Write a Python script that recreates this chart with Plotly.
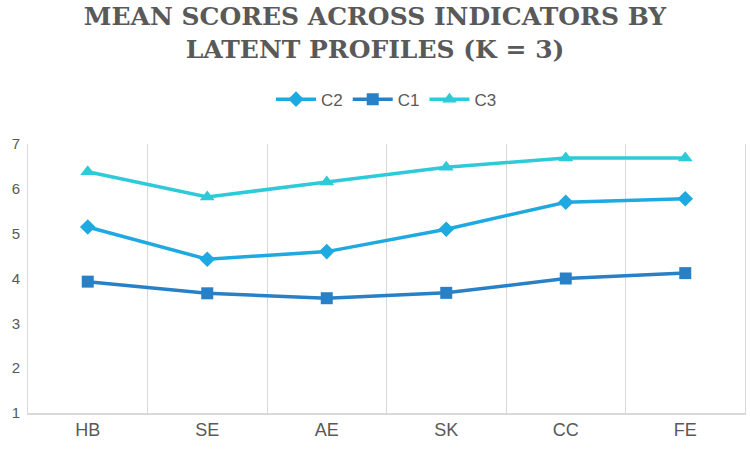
import plotly.graph_objects as go

categories = ["HB", "SE", "AE", "SK", "CC", "FE"]
c2_values = [5.15, 4.43, 4.60, 5.10, 5.70, 5.78]
c1_values = [3.93, 3.67, 3.56, 3.68, 4.00, 4.12]
c3_values = [6.38, 5.82, 6.15, 6.48, 6.69, 6.69]
y_ticks = [1, 2, 3, 4, 5, 6, 7]

series = [
    ("C2", c2_values, "#1FA9E1", "diamond", 12),
    ("C1", c1_values, "#2880C6", "square", 12),
    ("C3", c3_values, "#2DCAD8", "triangle-up", 13),
]

fig = go.Figure()
for name, vals, color, sym, size in series:
    fig.add_trace(go.Scatter(
        x=categories, y=vals, name=name, mode="lines+markers",
        line=dict(color=color, width=3.5),
        marker=dict(symbol=sym, size=size, color=color),
    ))

fig.update_layout(
    width=750, height=449,
    margin=dict(l=28, r=5, t=144, b=36),
    paper_bgcolor="white", plot_bgcolor="white",
    title=dict(
        text="MEAN SCORES ACROSS INDICATORS BY<br>LATENT PROFILES (K = 3)",
        x=0.5, xanchor="center", y=0.944, yanchor="top",
        font=dict(family="DejaVu Serif", size=25, color="#595959", weight="bold"),
    ),
    legend=dict(
        orientation="h", x=0.5, xanchor="center", y=1.165, yanchor="middle",
        font=dict(family="Liberation Sans", size=17, color="#595959"),
        itemwidth=40, bgcolor="rgba(0,0,0,0)",
    ),
    showlegend=True,
)
fig.update_xaxes(
    type="category", tickson="boundaries", showgrid=True, gridcolor="#d9d9d9", gridwidth=1,
    showline=True, linecolor="#d9d9d9", linewidth=1.5, ticks="",
    tickfont=dict(family="Liberation Sans", size=18, color="#595959"),
    range=[-0.5, 5.5],
)
fig.update_yaxes(
    range=[1, 7], tickvals=y_ticks, showgrid=False, zeroline=False,
    showline=True, mirror=True, linecolor="#d9d9d9", linewidth=1,
    tickfont=dict(family="Liberation Sans", size=15, color="#595959"),
    ticklabelstandoff=4,
)

fig.write_html("out.html")
